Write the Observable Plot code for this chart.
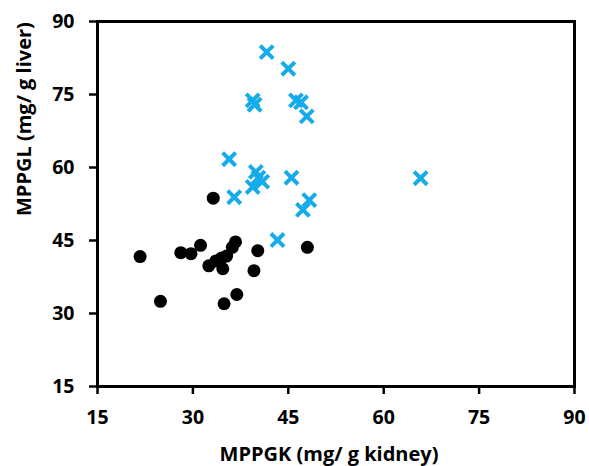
<!DOCTYPE html>
<html>
<head>
<meta charset="utf-8">
<script src="https://cdn.jsdelivr.net/npm/d3@7"></script>
<script src="https://cdn.jsdelivr.net/npm/@observablehq/plot@0.6"></script>
<style>
  html, body { margin: 0; padding: 0; background: #fff; }
</style>
</head>
<body>
<div id="chart"></div>
<script>
// Group 1 (black circles)
const blackX = [21.7, 24.9, 28.1, 29.7, 31.2, 32.5, 33.6, 34.5, 34.7, 35.3, 36.2, 36.7, 34.9, 36.9, 40.2, 39.6, 48.0, 33.2];
const blackY = [41.7, 32.5, 42.5, 42.3, 44.0, 39.8, 40.8, 41.4, 39.2, 41.8, 43.6, 44.7, 32.0, 33.9, 42.9, 38.8, 43.6, 53.7];
// Group 2 (blue crosses)
const blueX = [41.6, 45.0, 39.4, 39.7, 46.2, 47.0, 47.9, 35.7, 39.9, 40.9, 39.4, 40.3, 36.5, 45.5, 48.3, 47.3, 43.3, 65.8];
const blueY = [83.7, 80.3, 73.8, 72.9, 73.8, 73.4, 70.5, 61.7, 59.1, 57.1, 56.0, 57.9, 53.9, 57.9, 53.3, 51.3, 45.1, 57.8];
// Axes
const xTicks = [15, 30, 45, 60, 75, 90];
const yTicks = [15, 30, 45, 60, 75, 90];
const xTitle = "MPPGK (mg/ g kidney)";
const yTitle = "MPPGL (mg/ g liver)";

const black = blackX.map((x, i) => ({x, y: blackY[i]}));
const blue = blueX.map((x, i) => ({x, y: blueY[i]}));

const font = "'Open Sans', 'Noto Sans', sans-serif";

const chart = Plot.plot({
  width: 589,
  height: 466,
  marginLeft: 97,
  marginRight: 15,
  marginTop: 21,
  marginBottom: 80,
  style: {fontFamily: font, fontWeight: "bold", fontSize: "19.5px", color: "black", background: "white"},
  x: {domain: [15, 90], ticks: xTicks},
  y: {domain: [15, 90], ticks: yTicks},
  marks: [
    Plot.frame({stroke: "black", strokeWidth: 3}),
    Plot.axisX({ticks: xTicks, tickSize: 8, tickPadding: 16, strokeWidth: 2.5, label: null, fontSize: 19.5, fontWeight: "bold"}),
    Plot.axisY({ticks: yTicks, tickSize: 8, tickPadding: 15, strokeWidth: 2.5, label: null, fontSize: 19.5, fontWeight: "bold"}),
    Plot.text([xTitle], {frameAnchor: "bottom", lineAnchor: "bottom", dy: 74, dx: -7, fontSize: 20, fontWeight: "bold", fill: "black"}),
    Plot.text([yTitle], {frameAnchor: "left", lineAnchor: "bottom", rotate: -90, dx: -67, dy: 12, fontSize: 20, fontWeight: "bold", fill: "black"}),
    Plot.dot(black, {x: "x", y: "y", r: 6.5, fill: "black", stroke: "none"}),
    Plot.dot(blue, {x: "x", y: "y", r: 6, symbol: "times", stroke: "#16abe9", strokeWidth: 4})
  ]
});
document.getElementById("chart").appendChild(chart);
</script>
</body>
</html>
